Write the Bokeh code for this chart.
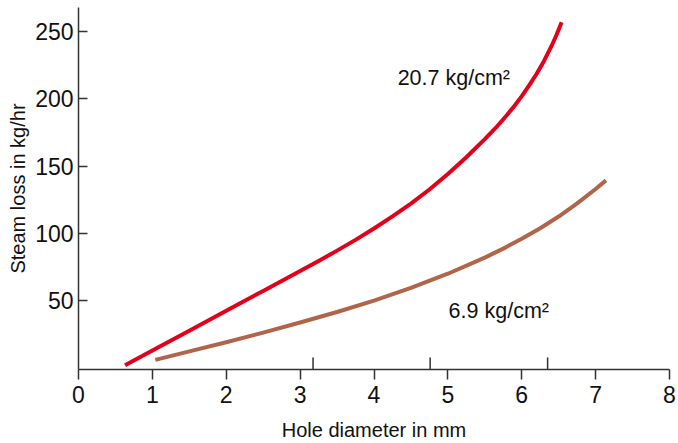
from bokeh.plotting import figure
from bokeh.models import FixedTicker, Range1d
from bokeh.embed import file_html
from bokeh.resources import INLINE
from bokeh.core.properties import value

# ---- data ----
x_high = [0.63, 1.0, 1.5, 2.0, 2.5, 3.0, 3.25, 3.5, 3.75, 4.0, 4.25, 4.5, 4.75, 5.0, 5.25, 5.5,
          5.65, 5.8, 5.9, 6.0, 6.1, 6.2, 6.3, 6.4, 6.47, 6.54]
y_high = [1.7, 12.6, 27.3, 42.3, 57.0, 71.8, 79.3, 87.0, 95.0, 103.5, 112.5, 122.0, 132.5, 144.0, 156.5, 170.0,
          178.5, 188.0, 194.7, 202.0, 210.0, 218.5, 228.0, 239.0, 247.5, 257.0]

x_low = [1.04, 1.5, 2.0, 2.5, 3.0, 3.5, 4.0, 4.5, 5.0, 5.5, 5.75, 6.0, 6.25, 6.5, 6.75, 7.0, 7.14]
y_low = [5.7, 12.0, 18.8, 26.0, 33.5, 41.3, 49.8, 59.2, 69.8, 81.8, 88.5, 95.8, 103.7, 112.4, 122.2, 132.9, 139.3]

series_labels = ["20.7 kg/cm\u00b2", "6.9 kg/cm\u00b2"]
label_x = [4.32, 5.01]
label_y = [215.3, 41.8]

x_title = "Hole diameter in mm"
y_title = "Steam loss in kg/hr"

x_ticks = [0, 1, 2, 3, 4, 5, 6, 7, 8]
y_ticks = [50, 100, 150, 200, 250]
inch_ticks = [3.175, 4.76, 6.35]

RED = "#e2001a"
BROWN = "#b0654a"
AXIS = "#333333"
TEXT = "#111111"
FONT = "Liberation Sans"

x0, x1 = 0, 8
y0, y1 = -1.5, 268

p = figure(width=678, height=443,
           x_range=Range1d(x0, x1), y_range=Range1d(y0, y1),
           output_backend="svg", toolbar_location=None,
           min_border_left=78, min_border_right=9,
           min_border_top=7, min_border_bottom=73)

p.grid.visible = False
p.outline_line_color = None
p.background_fill_color = "white"
p.border_fill_color = "white"

# x axis
xa = p.xaxis[0]
xa.ticker = FixedTicker(ticks=x_ticks)
xa.minor_tick_line_color = None
xa.major_tick_in = 0
xa.major_tick_out = 10
xa.axis_line_color = AXIS
xa.axis_line_width = 1.5
xa.major_tick_line_color = AXIS
xa.major_tick_line_width = 1.5
xa.major_label_text_font = FONT
xa.major_label_text_font_size = "23px"
xa.major_label_text_color = TEXT
xa.major_label_standoff = 6
xa.axis_label = x_title
xa.axis_label_text_font = FONT
xa.axis_label_text_font_size = "20px"
xa.axis_label_text_font_style = "normal"
xa.axis_label_text_color = TEXT
xa.axis_label_standoff = 13

# y axis
ya = p.yaxis[0]
ya.ticker = FixedTicker(ticks=y_ticks)
ya.minor_tick_line_color = None
ya.major_tick_in = 9
ya.major_tick_out = 0
ya.axis_line_color = AXIS
ya.axis_line_width = 1.5
ya.major_tick_line_color = AXIS
ya.major_tick_line_width = 1.5
ya.major_label_text_font = FONT
ya.major_label_text_font_size = "23px"
ya.major_label_text_color = TEXT
ya.major_label_standoff = 5
ya.axis_label = y_title
ya.axis_label_text_font = FONT
ya.axis_label_text_font_size = "20px"
ya.axis_label_text_font_style = "normal"
ya.axis_label_text_color = TEXT
ya.axis_label_standoff = 3

# inch marks pointing up from the x axis
tick_len = 9.0
p.segment(x0=inch_ticks, y0=[y0] * len(inch_ticks),
          x1=inch_ticks, y1=[y0 + tick_len] * len(inch_ticks),
          line_color=AXIS, line_width=1.5)

# curves
p.line(x_high, y_high, line_color=RED, line_width=4, line_join="round")
p.line(x_low, y_low, line_color=BROWN, line_width=4, line_join="round")

# labels
p.text(x=label_x, y=label_y, text=series_labels,
       text_font=value(FONT), text_font_size="21.5px",
       text_color=TEXT, text_align="left", text_baseline="alphabetic")

open("out.html", "w").write(file_html(p, INLINE))
